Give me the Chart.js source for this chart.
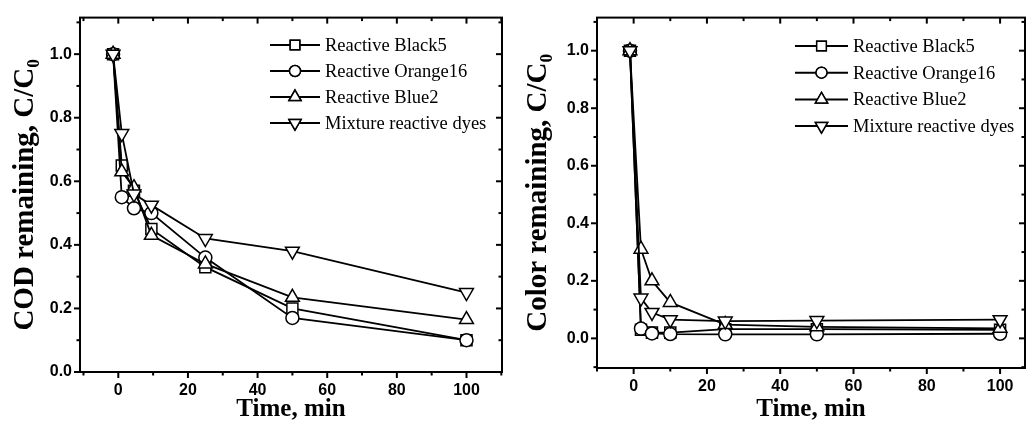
<html>
  <head>
    <title>COD and colour removal of reactive dyes</title>
    <style>
      body { margin: 0; background: #fff; }
      .wrap { display: flex; width: 1035px; height: 425px; }
      canvas { display: block; }
    </style>
  </head>
  <body>
    <div class="wrap">
      <canvas id="codChart" width="517" height="425"></canvas>
      <canvas id="colorChart" width="518" height="425"></canvas>
    </div>
    <script src="https://cdn.jsdelivr.net/npm/chart.js@4.4.0/dist/chart.umd.min.js"></script>
    <script>
      // series names (same for both panels)
      const seriesNames = ['Reactive Black5', 'Reactive Orange16', 'Reactive Blue2', 'Mixture reactive dyes'];

      // left panel: COD remaining
      const timeCOD = [-1.5, 1, 4.5, 9.5, 25, 50, 100];
      const codBlack5 = [1.0, 0.65, 0.57, 0.45, 0.33, 0.20, 0.10];
      const codOrange16 = [1.0, 0.55, 0.515, 0.50, 0.36, 0.17, 0.10];
      const codBlue2 = [1.0, 0.63, 0.58, 0.43, 0.34, 0.235, 0.165];
      const codMixture = [1.0, 0.75, 0.56, 0.525, 0.42, 0.38, 0.25];

      // right panel: colour remaining
      const timeColor = [-1, 2, 5, 10, 25, 50, 100];
      const colorBlack5 = [1.0, 0.03, 0.02, 0.02, 0.032, 0.032, 0.03];
      const colorOrange16 = [1.0, 0.034, 0.017, 0.015, 0.014, 0.014, 0.016];
      const colorBlue2 = [1.0, 0.31, 0.20, 0.125, 0.048, 0.04, 0.035];
      const colorMixture = [1.0, 0.14, 0.09, 0.065, 0.06, 0.062, 0.065];

      // tick labels
      const xTickVals = [0, 20, 40, 60, 80, 100];
      const yTickVals = [0.0, 0.2, 0.4, 0.6, 0.8, 1.0];

      const markerStyles = ['rect', 'circle', 'triangle', 'triangle'];
      const markerRotation = [0, 0, 0, 180];
      const markerRadius = [7.8, 6.5, 8, 8];

      function toPoints(xs, ys) {
        return xs.map((x, i) => ({ x: x, y: ys[i] }));
      }

      function makeDatasets(xs, seriesList) {
        return seriesList.map((ys, i) => ({
          label: seriesNames[i],
          data: toPoints(xs, ys),
          order: seriesList.length - i, // later series on top, like the original plot
          borderColor: '#000',
          borderWidth: 1.8,
          backgroundColor: '#fff',
          pointStyle: markerStyles[i],
          pointRotation: markerRotation[i],
          pointRadius: markerRadius[i],
          pointBackgroundColor: '#fff',
          pointBorderColor: '#000',
          pointBorderWidth: 1.5,
          tension: 0
        }));
      }

      // frame, tick marks (outside on bottom/left, inside on top/right) and legend
      const framePlugin = {
        id: 'frame',
        afterDraw(chart, args, opts) {
          const ctx = chart.ctx;
          const a = chart.chartArea;
          const xs = chart.scales.x, ys = chart.scales.y;
          ctx.save();
          ctx.strokeStyle = '#000';
          ctx.lineWidth = 2;
          ctx.strokeRect(a.left, a.top, a.right - a.left, a.bottom - a.top);

          const xStep = xTickVals[1] - xTickVals[0];
          const yStep = yTickVals[1] - yTickVals[0];
          const tick = (x1, y1, x2, y2) => { ctx.beginPath(); ctx.moveTo(x1, y1); ctx.lineTo(x2, y2); ctx.stroke(); };

          for (let v = xTickVals[0] - xStep; v <= xs.max + 1e-9; v += xStep / 2) {
            if (v < xs.min) continue;
            const major = Math.abs((v - xTickVals[0]) / xStep - Math.round((v - xTickVals[0]) / xStep)) < 1e-6;
            const len = major ? 6 : 3.5;
            const px = xs.getPixelForValue(v);
            tick(px, a.bottom, px, a.bottom + len);
            tick(px, a.top, px, a.top + len);
          }
          for (let v = yTickVals[0] - yStep; v <= ys.max + 1e-9; v += yStep / 2) {
            if (v < ys.min - 1e-9) continue;
            const major = Math.abs((v - yTickVals[0]) / yStep - Math.round((v - yTickVals[0]) / yStep)) < 1e-6;
            const len = major ? 6 : 3.5;
            const py = ys.getPixelForValue(v);
            tick(a.left, py, a.left - len, py);
            tick(a.right, py, a.right - len, py);
          }

          // legend: line - marker - line, then name
          const lg = opts.legend;
          ctx.font = '18.5px "Liberation Serif", "Times New Roman", serif';
          ctx.textBaseline = 'middle';
          ctx.fillStyle = '#000';
          chart.data.datasets.forEach((ds, i) => {
            const y = lg.y + i * lg.gap;
            ctx.lineWidth = 2;
            tick(lg.x, y, lg.x + lg.len, y);
            ctx.lineWidth = 1.5;
            Chart.helpers.drawPoint(ctx, {
              pointStyle: ds.pointStyle,
              rotation: ds.pointRotation,
              radius: ds.pointRadius - 1,
              borderWidth: 1.5
            }, lg.x + lg.len / 2, y);
            ctx.fillStyle = '#fff';
            ctx.fill();
            ctx.stroke();
            ctx.fillStyle = '#000';
            ctx.fillText(ds.label, lg.x + lg.len + 5, y + 1);
          });
          ctx.restore();
        }
      };

      function makeChart(canvasId, xs, seriesList, cfg) {
        return new Chart(document.getElementById(canvasId), {
          type: 'line',
          data: { datasets: makeDatasets(xs, seriesList) },
          options: {
            responsive: false,
            animation: false,
            devicePixelRatio: 1,
            layout: { padding: { top: 15, right: cfg.padRight, left: 0, bottom: 0 } },
            scales: {
              x: {
                type: 'linear',
                min: cfg.xMin,
                max: cfg.xMax,
                afterBuildTicks: s => { s.ticks = xTickVals.map(v => ({ value: v })); },
                afterFit: s => { s.height = cfg.xHeight; },
                grid: { display: false, drawTicks: false },
                border: { display: false },
                ticks: {
                  color: '#000',
                  padding: 9,
                  maxRotation: 0,
                  font: { family: '"Liberation Sans", Arial, sans-serif', size: 16, weight: 'bold' },
                  callback: v => String(v)
                },
                title: {
                  display: true,
                  text: 'Time, min',
                  color: '#000',
                  padding: { top: 0, bottom: 3 },
                  font: { family: '"Liberation Serif", "Times New Roman", serif', size: 25, weight: 'bold', lineHeight: 1 }
                }
              },
              y: {
                min: cfg.yMin,
                max: cfg.yMax,
                afterBuildTicks: s => { s.ticks = yTickVals.map(v => ({ value: v })); },
                afterFit: s => { s.width = 80; },
                grid: { display: false, drawTicks: false },
                border: { display: false },
                ticks: {
                  color: '#000',
                  padding: 8,
                  font: { family: '"Liberation Sans", Arial, sans-serif', size: 16, weight: 'bold' },
                  callback: v => v.toFixed(1)
                },
                title: {
                  display: true,
                  text: cfg.yTitle,
                  color: '#000',
                  padding: { top: cfg.yTitlePad, bottom: 0 },
                  font: { family: '"Liberation Serif", "Times New Roman", serif', size: 29, weight: 'bold', lineHeight: 1 }
                }
              }
            },
            plugins: {
              legend: { display: false },
              tooltip: { enabled: false },
              frame: { legend: cfg.legend }
            }
          },
          plugins: [framePlugin]
        });
      }

      makeChart('codChart', timeCOD, [codBlack5, codOrange16, codBlue2, codMixture], {
        xMin: -11, xMax: 110.2, yMin: 0, yMax: 1.115,
        xHeight: 53, padRight: 15, yTitlePad: 11,
        yTitle: 'COD remaining, C/C\u2080',
        legend: { x: 270, y: 45, gap: 26, len: 50 }
      });

      makeChart('colorChart', timeColor, [colorBlack5, colorOrange16, colorBlue2, colorMixture], {
        xMin: -10, xMax: 106.8, yMin: -0.103, yMax: 1.115,
        xHeight: 57, padRight: 10, yTitlePad: 7,
        yTitle: 'Color remaining, C/C\u2080',
        legend: { x: 278, y: 46, gap: 26.7, len: 53 }
      });
    </script>
  </body>
</html>
